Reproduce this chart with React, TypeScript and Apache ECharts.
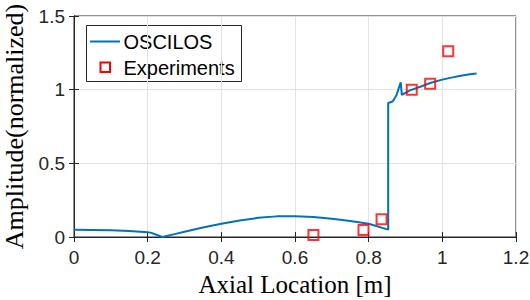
import React, { useEffect, useRef } from "react";
import * as echarts from "echarts";

const curveX = [0, 0.05, 0.1, 0.15, 0.2, 0.21, 0.24, 0.27, 0.3, 0.35, 0.4, 0.45, 0.5, 0.55, 0.6, 0.65, 0.7, 0.75, 0.8, 0.853, 0.853, 0.865, 0.875, 0.887, 0.89, 0.912, 0.94, 0.967, 1.0, 1.021, 1.05, 1.075, 1.093];
const curveY = [0.05, 0.048, 0.045, 0.04, 0.033, 0.028, 0.0, 0.018, 0.036, 0.064, 0.09, 0.112, 0.13, 0.14, 0.141, 0.136, 0.124, 0.108, 0.09, 0.05, 0.91, 0.92, 0.96, 1.05, 0.965, 0.995, 1.02, 1.045, 1.068, 1.08, 1.095, 1.105, 1.11];
const expX = [0.65, 0.786, 0.835, 0.917, 0.967, 1.016];
const expY = [0.014, 0.048, 0.12, 1.0, 1.04, 1.26];
const seriesNames = ["OSCILOS", "Experiments"];

const fmt = (v: number) => String(parseFloat(v.toFixed(2)));

export default function App() {
  const ref = useRef<HTMLDivElement>(null);
  useEffect(() => {
    document.body.style.margin = "0";
    const chart = echarts.init(ref.current!, null, { renderer: "svg" });
    const axisColor = "#262626";
    const sans = "Liberation Sans, Arial, Helvetica, sans-serif";
    const serif = "Liberation Serif, Times New Roman, serif";
    const tickFont = { fontFamily: sans, fontSize: 19, color: axisColor };
    const lineColor = "#0072BD";
    const markColor = "#ff0000";
    chart.setOption({
      animation: false,
      backgroundColor: "#ffffff",
      grid: {
        left: 74,
        right: 14,
        top: 16,
        bottom: 63,
        show: true,
        borderColor: axisColor,
        borderWidth: 1,
        containLabel: false,
        outerBoundsMode: "none",
      },
      graphic: [
        {
          type: "group",
          left: 86,
          top: 25,
          z: 100,
          children: [
            { type: "rect", shape: { x: 0, y: 0, width: 155, height: 56 }, style: { fill: "#fff", stroke: axisColor, lineWidth: 1 } },
            { type: "line", shape: { x1: 3.5, y1: 16, x2: 33.5, y2: 16 }, style: { stroke: lineColor, lineWidth: 2 } },
            { type: "text", x: 37, y: 16.5, style: { text: seriesNames[0], font: `20px ${sans}`, fill: "#000", textVerticalAlign: "middle", verticalAlign: "middle" } },
            { type: "rect", shape: { x: 14, y: 37, width: 9.5, height: 9.5 }, style: { fill: "none", stroke: markColor, lineWidth: 2 } },
            { type: "text", x: 37, y: 42.5, style: { text: seriesNames[1], font: `20px ${sans}`, fill: "#000", textVerticalAlign: "middle", verticalAlign: "middle" } },
          ],
        },
      ],
      xAxis: [
        {
          type: "value",
          min: 0,
          max: 1.2,
          interval: 0.2,
          name: "Axial Location [m]",
          nameLocation: "middle",
          nameGap: 22,
          nameTextStyle: { fontFamily: serif, fontSize: 25, color: "#000" },
          axisLine: { lineStyle: { color: axisColor } },
          axisTick: { inside: true, length: 5, lineStyle: { color: axisColor } },
          axisLabel: { ...tickFont, margin: 11, formatter: fmt },
          splitLine: { show: true, lineStyle: { color: "#e3e3e3", width: 1 } },
        },
        {
          type: "value",
          position: "top",
          min: 0,
          max: 1.2,
          interval: 0.2,
          axisLine: { show: true, lineStyle: { color: axisColor } },
          axisTick: { inside: true, length: 5, lineStyle: { color: axisColor } },
          axisLabel: { show: false },
          splitLine: { show: false },
        },
      ],
      yAxis: [
        {
          type: "value",
          min: 0,
          max: 1.5,
          interval: 0.5,
          name: "Amplitude(normalized)",
          nameLocation: "middle",
          nameGap: 40,
          nameTextStyle: { fontFamily: serif, fontSize: 26, color: "#000" },
          axisLine: { show: true, lineStyle: { color: axisColor } },
          axisTick: { show: true, inside: true, length: 5, lineStyle: { color: axisColor } },
          axisLabel: { ...tickFont, margin: 9, formatter: fmt },
          splitLine: { show: true, lineStyle: { color: "#e3e3e3", width: 1 } },
        },
        {
          type: "value",
          position: "right",
          min: 0,
          max: 1.5,
          interval: 0.5,
          axisLine: { show: true, lineStyle: { color: axisColor } },
          axisTick: { show: true, inside: true, length: 5, lineStyle: { color: axisColor } },
          axisLabel: { show: false },
          splitLine: { show: false },
        },
      ],
      series: [
        {
          name: seriesNames[0],
          type: "line",
          data: curveX.map((x, i) => [x, curveY[i]]),
          symbol: "none",
          smooth: false,
          lineStyle: { color: lineColor, width: 2 },
          itemStyle: { color: lineColor },
          z: 3,
        },
        {
          name: seriesNames[1],
          type: "scatter",
          data: expX.map((x, i) => [x, expY[i]]),
          symbol: "rect",
          symbolSize: 10,
          itemStyle: { color: "none", borderColor: markColor, borderWidth: 2 },
          z: 4,
        },
      ],
    });
    return () => chart.dispose();
  }, []);
  return <div ref={ref} style={{ width: 530, height: 300, position: "absolute", left: 0, top: 0 }} />;
}
